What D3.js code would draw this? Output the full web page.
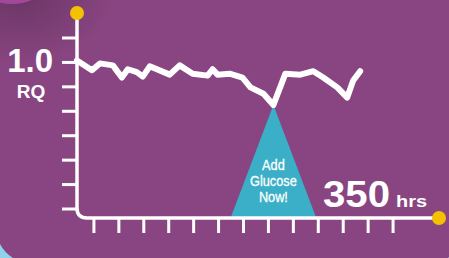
<!DOCTYPE html>
<html>
  <head>
    <script src="https://d3js.org/d3.v7.min.js"></script>
    <style>
      body { margin: 0; }
    </style>
  </head>
  <body>
    <script>

// RQ, hour by hour
const hours = [8, 23, 31, 44, 53, 59, 68, 74, 81, 101, 111, 124, 139, 144, 149, 161, 174, 182, 195, 205, 217, 232, 245, 255, 269, 279, 285, 292];
const rq = [1.004, 0.984, 0.998, 0.994, 0.969, 0.986, 0.980, 0.971, 0.992, 0.975, 0.994, 0.977, 0.973, 0.986, 0.975, 0.977, 0.969, 0.949, 0.936, 0.913, 0.977, 0.975, 0.982, 0.969, 0.949, 0.928, 0.963, 0.982];

const yTicks = [1.05, 1.0, 0.95, 0.9, 0.85, 0.8, 0.75, 0.7];
const xTicks = d3.range(25, 350, 25);
const calloutText = ["Add", "Glucose", "Now!"];

const width = 449;
const height = 258;
const purple = "#894581";
const blue = "#8fd2ea";

const x = d3.scaleLinear().domain([0, 350]).range([69, 418]);
const y = d3.scaleLinear().domain([0.7, 1.05]).range([209, 38]);

const axisX = 77, axisY = 218;

const svg = d3.select("body").append("svg")
    .attr("width", width)
    .attr("height", height)
    .style("display", "block");

const defs = svg.append("defs");
const shade = defs.append("radialGradient").attr("id", "shade");
shade.append("stop").attr("offset", "0%").attr("stop-color", "#5e2f5a").attr("stop-opacity", 0.7);
shade.append("stop").attr("offset", "100%").attr("stop-color", "#5e2f5a").attr("stop-opacity", 0);

// background
svg.append("rect").attr("width", width).attr("height", height).attr("fill", purple);
svg.append("path")
    .attr("d", "M0,244 A36,36 0 0,0 13,258 L0,258 Z")
    .attr("fill", blue);
svg.append("ellipse")
    .attr("cx", 472).attr("cy", 276).attr("rx", 30).attr("ry", 30)
    .attr("fill", blue);
svg.append("ellipse")
    .attr("cx", 20).attr("cy", -5).attr("rx", 95).attr("ry", 70)
    .attr("fill", "url(#shade)");
svg.append("ellipse")
    .attr("cx", 12).attr("cy", -12).attr("rx", 30).attr("ry", 16)
    .attr("fill", "#a2489b");

// callout triangle from the dip
const dip = d3.minIndex(rq);
const apex = [x(hours[dip]), y(rq[dip])];
svg.append("path")
    .attr("d", d3.line()([apex, [x(hours[dip] - 43), axisY], [x(hours[dip] + 43), axisY]]) + "Z")
    .attr("fill", "#3aafc7");

const squeeze = 0.85;
svg.append("g")
    .attr("transform", `scale(${squeeze},1)`)
    .selectAll("text")
    .data(calloutText)
    .join("text")
    .attr("x", apex[0] / squeeze)
    .attr("y", (d, i) => 170 + i * 16)
    .attr("text-anchor", "middle")
    .attr("fill", "white")
    .attr("font-family", "Liberation Sans, Arial, sans-serif")
    .attr("font-size", 15)
    .attr("stroke", "white")
    .attr("stroke-width", 0.3)
    .text(d => d);

// ticks
svg.append("g")
    .selectAll("line")
    .data(yTicks)
    .join("line")
    .attr("x1", 62).attr("x2", axisX)
    .attr("y1", d => y(d)).attr("y2", d => y(d))
    .attr("stroke", "white").attr("stroke-width", 3);

svg.append("g")
    .selectAll("line")
    .data(xTicks)
    .join("line")
    .attr("x1", d => x(d)).attr("x2", d => x(d))
    .attr("y1", axisY).attr("y2", 233)
    .attr("stroke", "white").attr("stroke-width", 3);

// axes with a rounded corner
const r = 10;
svg.append("path")
    .attr("d", `M${axisX},13 V${axisY - r} Q${axisX},${axisY} ${axisX + r},${axisY} H439`)
    .attr("fill", "none")
    .attr("stroke", "white")
    .attr("stroke-width", 3.5);

svg.selectAll("circle.end")
    .data([[axisX, 13], [439, axisY]])
    .join("circle")
    .attr("class", "end")
    .attr("cx", d => d[0]).attr("cy", d => d[1])
    .attr("r", 7)
    .attr("fill", "#f3c100");

// RQ line
svg.append("path")
    .datum(hours.map((h, i) => [h, rq[i]]))
    .attr("d", d3.line().x(d => x(d[0])).y(d => y(d[1])))
    .attr("fill", "none")
    .attr("stroke", "white")
    .attr("stroke-width", 6)
    .attr("stroke-linejoin", "round")
    .attr("stroke-linecap", "round");

// labels
const bold = "Liberation Sans, Arial, sans-serif";
svg.append("text")
    .attr("x", 53).attr("y", 72)
    .attr("text-anchor", "end")
    .attr("font-family", bold).attr("font-weight", "bold")
    .attr("font-size", 33).attr("fill", "white")
    .text("1.0");
svg.append("text")
    .attr("x", 31).attr("y", 98)
    .attr("text-anchor", "middle")
    .attr("font-family", bold).attr("font-weight", "bold")
    .attr("font-size", 19).attr("fill", "white")
    .text("RQ");
svg.append("text")
    .attr("x", 323).attr("y", 207)
    .attr("font-family", bold).attr("font-weight", "bold")
    .attr("font-size", 36).attr("fill", "white")
    .attr("textLength", 67).attr("lengthAdjust", "spacingAndGlyphs")
    .text("350");
svg.append("text")
    .attr("x", 396).attr("y", 207)
    .attr("font-family", bold).attr("font-weight", "bold")
    .attr("font-size", 17).attr("fill", "white")
    .attr("textLength", 31).attr("lengthAdjust", "spacingAndGlyphs")
    .text("hrs");

    </script>
  </body>
</html>
